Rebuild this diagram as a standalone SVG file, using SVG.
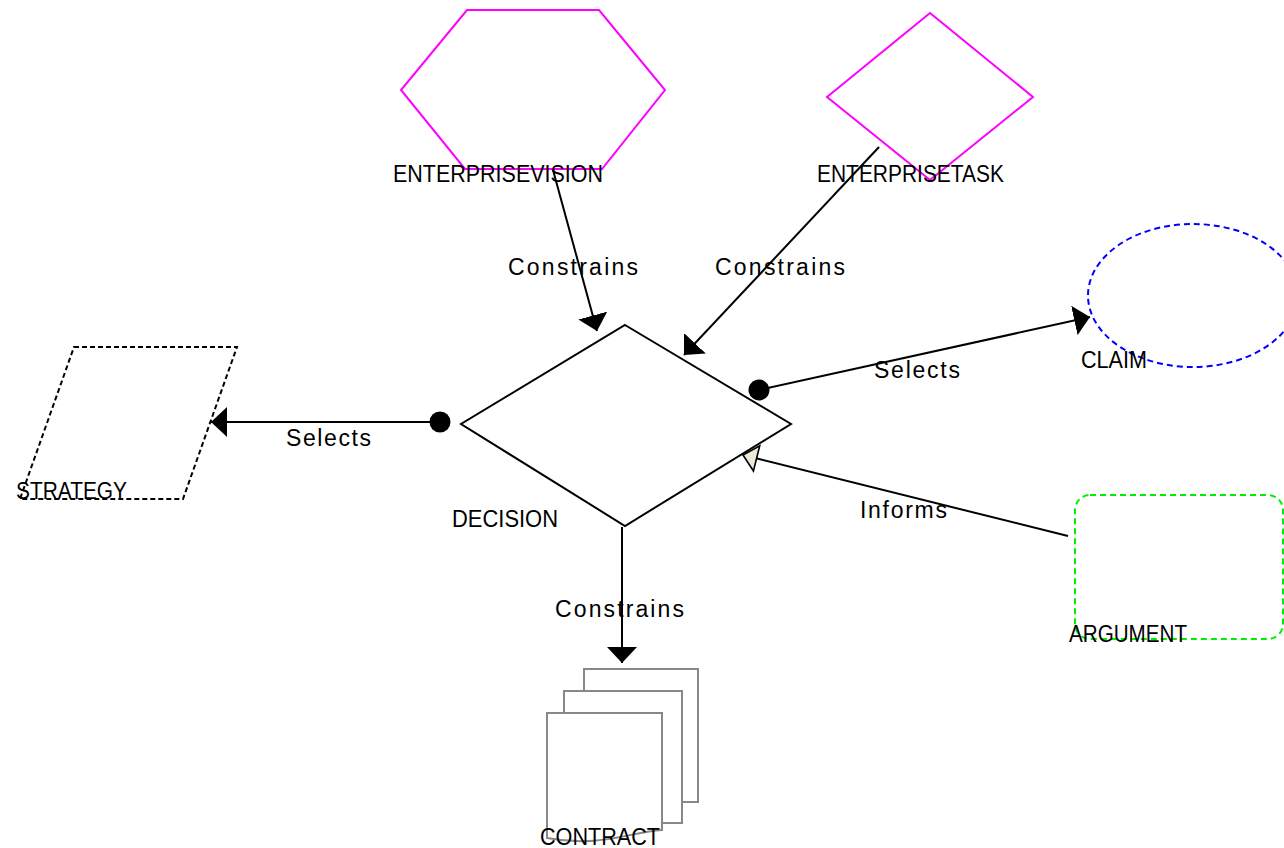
<svg xmlns="http://www.w3.org/2000/svg" width="1284" height="848" viewBox="0 0 1284 848">
  <style>
    .lbl { font-family: "Liberation Sans", Arial, sans-serif; font-size: 23px; fill: #000; }
    .edge { fill: none; stroke: #000; stroke-width: 2; }
    .shape { fill: #fff; stroke-width: 2; }
  </style>
  <defs>
    <marker id="arrow" viewBox="0 0 16 30" refX="16" refY="15" markerWidth="16" markerHeight="30" markerUnits="userSpaceOnUse" orient="auto">
      <path d="M0,0 L16,15 L0,30 Z" fill="#000"/>
    </marker>
    <marker id="dot" viewBox="0 0 22 22" refX="11" refY="11" markerWidth="22" markerHeight="22" markerUnits="userSpaceOnUse" orient="auto">
      <circle cx="11" cy="11" r="10.5" fill="#000"/>
    </marker>
    <marker id="hollow" viewBox="-2 -2 18 30" refX="14" refY="13" markerWidth="18" markerHeight="30" markerUnits="userSpaceOnUse" orient="auto">
      <path d="M0,0 L14,13 L0,26 Z" fill="#ece9d8" stroke="#000" stroke-width="1.6"/>
    </marker>
  </defs>
  <rect width="1284" height="848" fill="#fff"/>

  <g id="enterprisevision">
    <polygon class="shape" stroke="#ff00ff" points="467,10 599,10 665,90 602,169 465,169 401,90"/>
    <text class="lbl" x="393" y="182" textLength="210" lengthAdjust="spacingAndGlyphs">ENTERPRISEVISION</text>
  </g>

  <g id="enterprisetask">
    <polygon class="shape" stroke="#ff00ff" points="930,13 1033,97 930,180 827,97"/>
    <text class="lbl" x="817" y="182" textLength="187" lengthAdjust="spacingAndGlyphs">ENTERPRISETASK</text>
  </g>

  <g id="decision">
    <polygon class="shape" stroke="#000" points="625,325 791,424 625,526 461,424"/>
    <text class="lbl" x="452" y="527" textLength="106" lengthAdjust="spacingAndGlyphs">DECISION</text>
  </g>

  <g id="strategy">
    <polygon class="shape" stroke="#000" stroke-dasharray="5,3" points="74,347 237,347 183,499 20,499"/>
    <text class="lbl" x="16" y="499" textLength="111" lengthAdjust="spacingAndGlyphs">STRATEGY</text>
  </g>

  <g id="claim">
    <ellipse class="shape" stroke="#0000ff" stroke-dasharray="6,4" cx="1193" cy="295.5" rx="105" ry="71.5"/>
    <text class="lbl" x="1081" y="368" textLength="66" lengthAdjust="spacingAndGlyphs">CLAIM</text>
  </g>

  <g id="argument">
    <rect class="shape" stroke="#00ee00" stroke-dasharray="6,4" x="1075" y="495" width="208" height="144" rx="15" ry="15"/>
    <text class="lbl" x="1069" y="642" textLength="118" lengthAdjust="spacingAndGlyphs">ARGUMENT</text>
  </g>

  <g id="contract">
    <rect class="shape" stroke="#888" x="584" y="669" width="114" height="133"/>
    <rect class="shape" stroke="#888" x="564" y="691" width="118" height="132"/>
    <path class="shape" stroke="#888" d="M547,838 L547,713 L662,713 L662,830 C630,832 600,848 547,838 Z"/>
    <text class="lbl" x="540" y="845" textLength="120" lengthAdjust="spacingAndGlyphs">CONTRACT</text>
  </g>

  <g id="connectors">
    <line class="edge" x1="553" y1="170" x2="597" y2="331" marker-end="url(#arrow)"/>
    <text class="lbl" x="508" y="275" textLength="130" lengthAdjust="spacing">Constrains</text>

    <line class="edge" x1="879" y1="147" x2="684" y2="355" marker-end="url(#arrow)"/>
    <text class="lbl" x="715" y="275" textLength="130" lengthAdjust="spacing">Constrains</text>

    <line class="edge" x1="440" y1="422" x2="211" y2="422" marker-start="url(#dot)" marker-end="url(#arrow)"/>
    <text class="lbl" x="286" y="446" textLength="85" lengthAdjust="spacing">Selects</text>

    <line class="edge" x1="759" y1="390" x2="1090" y2="317" marker-start="url(#dot)" marker-end="url(#arrow)"/>
    <text class="lbl" x="874" y="378" textLength="86" lengthAdjust="spacing">Selects</text>

    <line class="edge" x1="1068" y1="536" x2="743" y2="455" marker-end="url(#hollow)"/>
    <text class="lbl" x="860" y="518" textLength="87" lengthAdjust="spacing">Informs</text>

    <line class="edge" x1="622" y1="527" x2="622" y2="663" marker-end="url(#arrow)"/>
    <text class="lbl" x="555" y="617" textLength="129" lengthAdjust="spacing">Constrains</text>
  </g>
</svg>
